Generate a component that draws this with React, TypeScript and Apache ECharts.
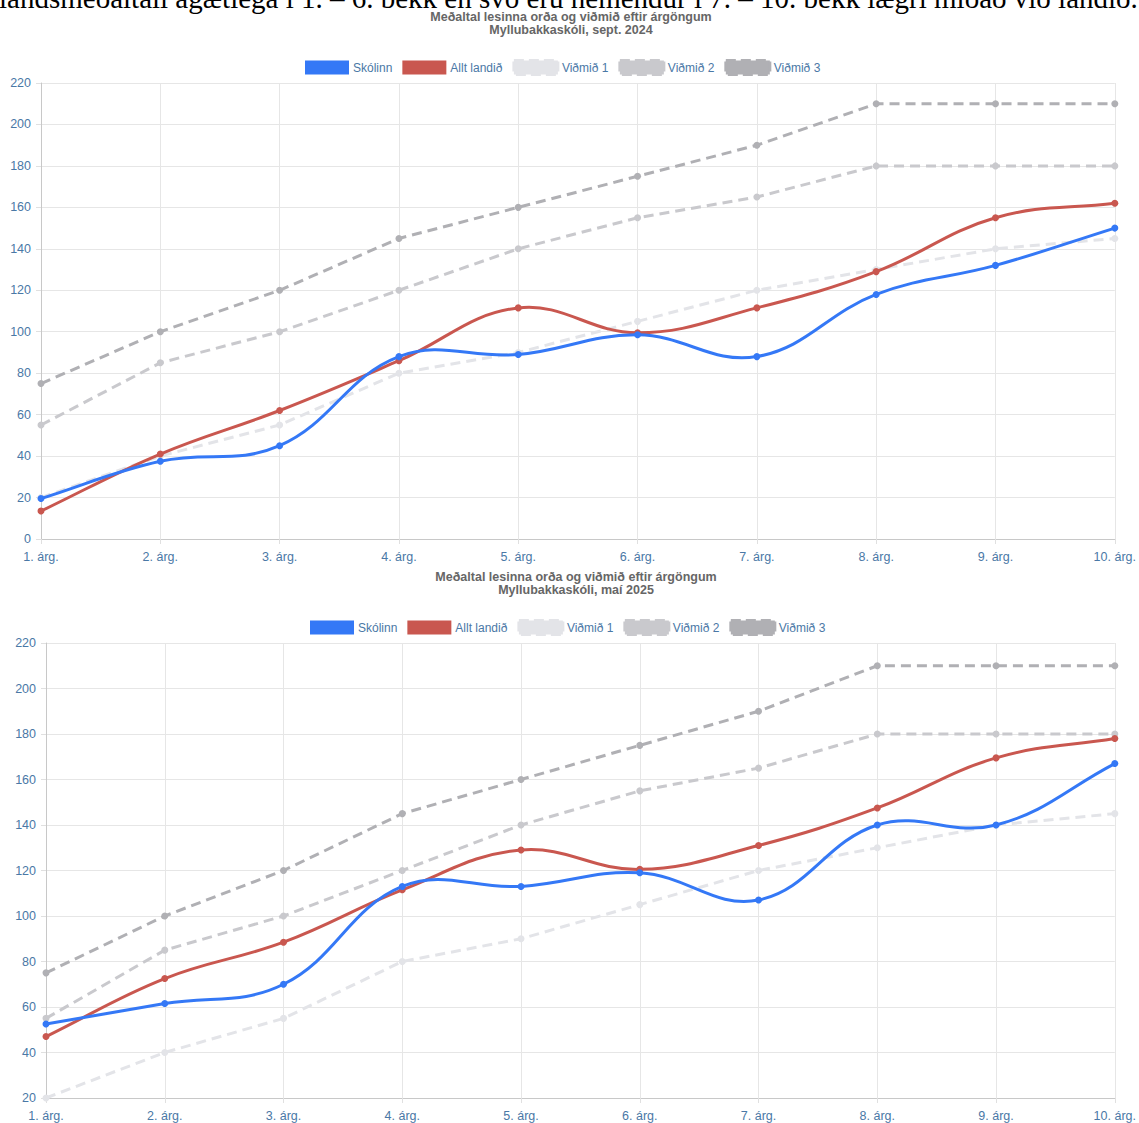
import React, { useEffect, useRef } from "react";
import * as echarts from "echarts";

const categories = ["1. árg.", "2. árg.", "3. árg.", "4. árg.", "5. árg.", "6. árg.", "7. árg.", "8. árg.", "9. árg.", "10. árg."];

const seriesNames = ["Skólinn", "Allt landið", "Viðmið 1", "Viðmið 2", "Viðmið 3"];

// Chart 1: sept. 2024
const school2024 = [19.5, 37.5, 45, 88, 89, 98.5, 88, 118, 132, 150];
const national2024 = [13.5, 41, 62, 86, 111.5, 99.5, 111.5, 129, 155, 162];

// Chart 2: maí 2025
const school2025 = [52.5, 61.5, 70, 113, 113, 119, 107, 140, 140, 167];
const national2025 = [47, 72.5, 88.5, 111.5, 129, 120.5, 131, 147.5, 169.5, 178];

// Benchmarks (same in both)
const benchmark1 = [20, 40, 55, 80, 90, 105, 120, 130, 140, 145];
const benchmark2 = [55, 85, 100, 120, 140, 155, 165, 180, 180, 180];
const benchmark3 = [75, 100, 120, 145, 160, 175, 190, 210, 210, 210];

const title1 = "Meðaltal lesinna orða og viðmið eftir árgöngum";
const subtitle2024 = "Myllubakkaskóli, sept. 2024";
const subtitle2025 = "Myllubakkaskóli, maí 2025";
const topText = "landsmeðaltali ágætlega í 1. – 6. bekk en svo eru nemendur í 7. – 10. bekk lægri miðað við landið.";

const colors = ["#3478f6", "#c9574f", "#e3e4e8", "#c9c9cd", "#b0b0b4"];
const labelColor = "#4a78a6";
const FONT = "'Liberation Sans', Arial, Helvetica, sans-serif";
const TENSION = 0.4;

function curvePath(pts: number[][]): string {
  const n = pts.length;
  const cpPrev: number[][] = [];
  const cpNext: number[][] = [];
  for (let i = 0; i < n; i++) {
    const cur = pts[i];
    const prev = pts[i - 1] || cur;
    const next = pts[i + 1] || cur;
    const d01 = Math.hypot(cur[0] - prev[0], cur[1] - prev[1]);
    const d12 = Math.hypot(next[0] - cur[0], next[1] - cur[1]);
    let s01 = d01 / (d01 + d12);
    let s12 = d12 / (d01 + d12);
    if (!isFinite(s01)) s01 = 0;
    if (!isFinite(s12)) s12 = 0;
    const fa = TENSION * s01;
    const fb = TENSION * s12;
    cpPrev.push([cur[0] - fa * (next[0] - prev[0]), cur[1] - fa * (next[1] - prev[1])]);
    cpNext.push([cur[0] + fb * (next[0] - prev[0]), cur[1] + fb * (next[1] - prev[1])]);
  }
  let d = `M${pts[0][0]},${pts[0][1]}`;
  for (let i = 0; i < n - 1; i++) {
    d += ` C${cpNext[i][0]},${cpNext[i][1]} ${cpPrev[i + 1][0]},${cpPrev[i + 1][1]} ${pts[i + 1][0]},${pts[i + 1][1]}`;
  }
  return d;
}

export default function App() {
  const ref = useRef<HTMLDivElement>(null);
  useEffect(() => {
    if (!ref.current) return;
    const chart = echarts.init(ref.current, null, { renderer: "svg" });

    const grids = [
      { left: 41, right: 21, top: 83, height: 456 },
      { left: 46, right: 19, top: 643, height: 455 },
    ];

    const mkX = (gi: number) => ({
      type: "category",
      gridIndex: gi,
      data: categories,
      boundaryGap: false,
      axisLine: { show: true, lineStyle: { color: "#c8c8c8", width: 1 } },
      axisTick: { show: true, length: 5, alignWithLabel: true, lineStyle: { color: "#e0e0e0" } },
      axisLabel: { color: labelColor, fontSize: 12.5, fontFamily: FONT, margin: 11, interval: 0 },
      splitLine: { show: true, lineStyle: { color: "#e6e6e6", width: 1 } },
    });
    const mkY = (gi: number, min: number) => ({
      type: "value",
      gridIndex: gi,
      min,
      max: 220,
      interval: 20,
      axisLine: { show: true, lineStyle: { color: "#c8c8c8", width: 1 } },
      axisTick: { show: true, length: 5, lineStyle: { color: "#e0e0e0" } },
      axisLabel: { color: labelColor, fontSize: 12.5, fontFamily: FONT, margin: 10 },
      splitLine: { show: true, lineStyle: { color: "#e6e6e6", width: 1 } },
    });

    const datasets = [
      [school2024, national2024, benchmark1, benchmark2, benchmark3],
      [school2025, national2025, benchmark1, benchmark2, benchmark3],
    ];

    const series: any[] = [];
    datasets.forEach((ds, gi) => {
      ds.forEach((data, si) => {
        const solid = si < 2;
        series.push({
          type: "line",
          name: seriesNames[si],
          xAxisIndex: gi,
          yAxisIndex: gi,
          data,
          smooth: false,
          symbol: "circle",
          symbolSize: 7,
          showSymbol: true,
          z: 20 - si * 2 + 1,
          itemStyle: { color: colors[si] },
          lineStyle: solid
            ? { color: colors[si], width: 0, opacity: 0 }
            : { color: colors[si], width: 3, type: [10, 6] },
          emphasis: { disabled: true },
        });
        if (solid) {
          series.push({
            type: "custom",
            name: "curve-" + gi + "-" + si,
            xAxisIndex: gi,
            yAxisIndex: gi,
            data: [[0, data[0]]],
            z: 20 - si * 2,
            silent: true,
            renderItem: (params: any, api: any) => {
              const pts = data.map((v, i) => api.coord([i, v]));
              return {
                type: "path",
                shape: { pathData: curvePath(pts) },
                style: { stroke: colors[si], lineWidth: 3, fill: "none" },
              };
            },
          });
        }
      });
    });

    const legendData = seriesNames.map((name, i) =>
      i < 2
        ? { name }
        : { name, itemStyle: { color: colors[i], borderColor: colors[i], borderWidth: 3, borderType: [10, 5] } }
    );

    const legendBase = {
      data: legendData,
      icon: "rect",
      itemWidth: 44,
      itemHeight: 14,
      itemGap: 10,
      textStyle: { color: labelColor, fontSize: 12, fontFamily: FONT, padding: [0, 0, 0, -1] },
      selectedMode: false,
    };

    const titleFont = `bold 12.5px ${FONT}`;

    chart.setOption({
      animation: false,
      backgroundColor: "#ffffff",
      grid: grids,
      xAxis: [mkX(0), mkX(1)],
      yAxis: [mkY(0, 0), mkY(1, 20)],
      legend: [
        { ...legendBase, left: 300, top: 54 },
        { ...legendBase, left: 305, top: 614 },
      ],
      graphic: [
        {
          type: "text",
          left: -1,
          top: -17,
          style: { text: topText, font: "29px 'Liberation Serif', 'Times New Roman', serif", fill: "#000" },
        },
        {
          type: "text",
          x: 571,
          y: 17,
          style: { text: title1, font: titleFont, fill: "#666", align: "center", verticalAlign: "middle" },
        },
        {
          type: "text",
          x: 571,
          y: 30,
          style: { text: subtitle2024, font: titleFont, fill: "#666", align: "center", verticalAlign: "middle" },
        },
        {
          type: "text",
          x: 576,
          y: 577,
          style: { text: title1, font: titleFont, fill: "#666", align: "center", verticalAlign: "middle" },
        },
        {
          type: "text",
          x: 576,
          y: 590,
          style: { text: subtitle2025, font: titleFont, fill: "#666", align: "center", verticalAlign: "middle" },
        },
      ],
      series,
    });

    return () => chart.dispose();
  }, []);

  return (
    <div
      ref={ref}
      style={{ position: "absolute", left: 0, top: 0, width: 1139, height: 1123, overflow: "hidden" }}
    />
  );
}
